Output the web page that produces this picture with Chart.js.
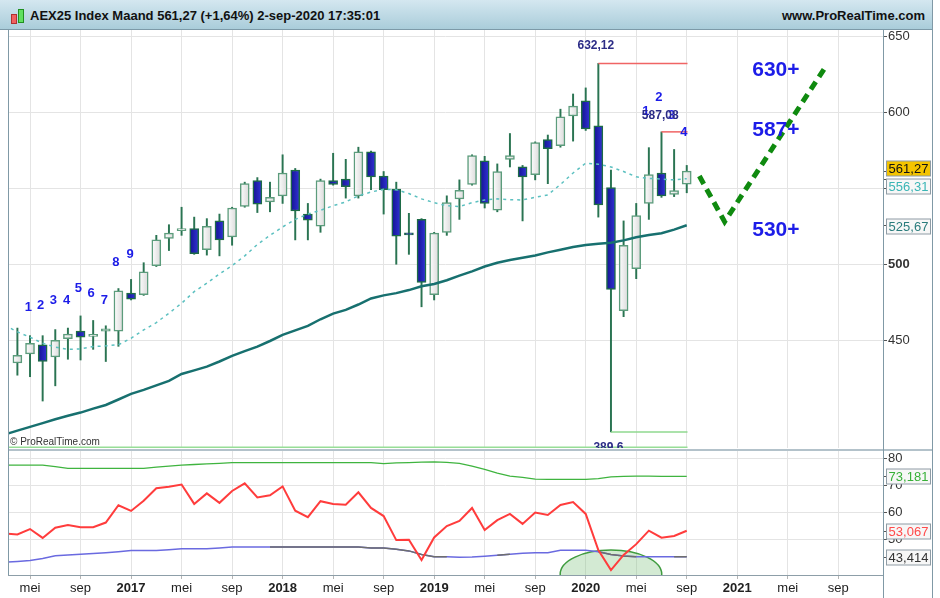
<!DOCTYPE html>
<html>
<head>
<meta charset="utf-8">
<title>AEX25 Index Maand</title>
<script src="https://cdn.jsdelivr.net/npm/chart.js@4.4.1/dist/chart.umd.min.js"></script>
<style>
  body { margin: 0; background: #fff; font-family: "Liberation Sans", Arial, sans-serif; }
  #page { position: relative; width: 940px; height: 598px; overflow: hidden; background: #fff; }
  #titlebar { position: absolute; left: 0; top: 0; width: 932px; height: 29px;
    background: linear-gradient(#d4e7f0, #aacdda); border-bottom: 1px solid #7d9aa8; }
  #titlebar .name { position: absolute; left: 30px; top: 8px; font: bold 13px "Liberation Sans", Arial, sans-serif; color: #111; }
  #titlebar .site { position: absolute; right: 7px; top: 8px; font: bold 13px "Liberation Sans", Arial, sans-serif; color: #111; }
  .ic { position: absolute; border: 1px solid; }
  canvas { position: absolute; left: 0; }
  #priceChart { top: 30px; }
  #lowerChart { top: 451px; }
  .vline { position: absolute; width: 1px; background: #8099a6; }
  #sep { position: absolute; left: 8px; top: 449px; width: 925px; height: 2px; background: #b3c2ca; }
  #copy { position: absolute; left: 10px; top: 436px; font: 10px "Liberation Sans", Arial, sans-serif; color: #333; }
</style>
</head>
<body>
<div id="page">
  <div id="titlebar">
    <div class="ic" style="left:11px;top:14px;width:4px;height:8px;background:#f06060;border-color:#b03030"></div>
    <div class="ic" style="left:18px;top:9px;width:4px;height:12px;background:#60e060;border-color:#209020"></div>
    <div class="name">AEX25 Index Maand 561,27 (+1,64%) 2-sep-2020 17:35:01</div>
    <div class="site">www.ProRealTime.com</div>
  </div>
  <canvas id="priceChart" width="933" height="418"></canvas>
  <canvas id="lowerChart" width="933" height="147"></canvas>
  <div id="sep"></div>
  <div class="vline" style="left:8px;top:30px;height:545px"></div>
  <div class="vline" style="left:883px;top:30px;height:568px"></div>
  <div class="vline" style="left:932px;top:0;height:598px"></div>
  <div id="copy">© ProRealTime.com</div>
</div>
<script>
// monthly candles, apr 2016 (index 0) .. sep 2020 (index 53)
var open  = [435, 441, 447, 439, 451, 456, 452.5, 456, 456, 481, 480, 499, 517, 522, 523.5, 509.5, 528.5, 518, 538, 555,
             541, 545, 562, 533, 525, 555, 556, 545, 574, 558, 549.5, 520, 529.5, 480, 521, 543, 552.5, 568, 535.5, 569,
             564, 559, 582, 578, 597.5, 607.5, 591, 550.5, 469.5, 497, 540, 560, 546, 552.6];
var high  = [458, 453, 453, 457, 458, 466, 463, 459.5, 484, 490, 501, 519, 526, 537.5, 531, 530, 533, 537.5, 554, 557,
             554, 572, 563, 540, 556, 573, 569, 577, 574.5, 561, 554, 533.5, 530, 521, 545, 555.5, 572, 571, 566, 586,
             565, 580.5, 585, 602, 612, 616, 632.12, 562, 528.5, 540, 576.7, 587.08, 575.5, 565];
var low   = [427, 426, 410, 420, 437.5, 437, 444, 436, 446, 476.5, 479.5, 498.5, 509, 519, 506.5, 506, 505.5, 512.5, 537.5, 534,
             534.5, 540, 516, 516, 521, 552, 543.5, 543.5, 549, 533, 500, 506.5, 472, 476.5, 519, 529.5, 552, 537, 534.5, 564,
             528.5, 555.5, 553, 577, 581, 588, 531, 389.6, 465.5, 490.5, 529.5, 544, 544.5, 547];
var close = [440, 448, 436, 450, 454, 452, 453, 457.5, 482.5, 477, 495, 516, 520.5, 523.5, 507, 525, 516, 537, 553, 539.5,
             544, 560, 535, 529, 555, 552.5, 551, 574, 557.5, 549, 518.5, 519.3, 488, 520.5, 540.5, 548.7, 571.5, 540, 561, 571.5,
             557.5, 580, 576, 597, 604, 589, 539, 483.5, 512.5, 532, 559, 545, 548.5, 561.27];

// lines from mrt 2016 (index -1) .. sep 2020
var maShort = [460, 455.5, 452, 448, 445.5, 444, 444.3, 445.8, 446.3, 447, 451.3, 456.8, 461.6, 467.8, 474.3, 482, 487.5, 493.6, 499.1, 505.5,
               513, 519, 524.5, 529.5, 533, 535.5, 538.5, 541, 545, 547.5, 549.3, 549, 546.5, 543, 540.5, 538.5, 537.9, 540.5, 542.3, 543,
               542.5, 542.3, 544, 545.6, 552.5, 560, 566.5, 565.8, 564, 561, 557.5, 556.5, 556, 555.5, 556.31];
var maLong  = [388, 390.5, 393, 395.5, 398, 400.3, 402.4, 405, 407.4, 411, 414.7, 417.3, 420.3, 423.2, 427.8, 430.2, 432.6, 436, 439.7, 442.8,
               445.8, 449.5, 453.5, 456.5, 459.4, 463.8, 467.5, 470, 473.5, 477.5, 479.5, 481, 483, 485.5, 487, 489.5, 492.5, 495.3, 498.5, 501,
               502.8, 504.3, 505.8, 507.8, 509.5, 511.3, 512.7, 513.5, 514.2, 515.7, 517.8, 519.2, 520.4, 522.8, 525.67];
var greenLine = [77.4, 77.4, 77.4, 77.4, 76.8, 76.2, 76.2, 76.2, 76.2, 76.2, 76.2, 76.2, 76.6, 77.0, 77.4, 77.6, 77.8, 78.0, 78.3, 78.3,
                 78.3, 78.3, 78.3, 78.3, 78.3, 78.3, 78.3, 78.3, 78.3, 78.3, 77.9, 78.2, 78.3, 78.5, 78.6, 78.4, 78.0, 77.0, 75.8, 74.4,
                 73.3, 72.8, 72.2, 72.1, 72.1, 72.1, 72.1, 72.4, 73.0, 73.2, 73.3, 73.3, 73.2, 73.2, 73.181];
var redLine = [52.0, 51.7, 53.7, 50.4, 54.2, 55.2, 54.4, 54.4, 56.1, 62.5, 60.4, 64.2, 68.8, 69.4, 70.2, 63.0, 66.9, 63.4, 67.8, 70.6,
               65.4, 66.2, 69.5, 60.5, 58.1, 64.0, 63.0, 62.7, 67.3, 61.5, 58.5, 49.6, 49.7, 42.2, 50.6, 54.8, 56.7, 61.5, 53.3, 57.0,
               59.3, 55.6, 59.8, 58.9, 62.6, 63.7, 59.3, 45.9, 38.5, 44.1, 48.1, 53.1, 50.5, 51.1, 53.067];
var purpleLine = [41.4, 41.7, 42.0, 42.8, 43.8, 44.1, 44.4, 44.6, 44.9, 45.3, 45.7, 45.7, 45.7, 46.0, 46.4, 46.4, 46.4, 46.7, 47.0, 47.0,
                  47.0, 47.0, 47.0, 47.0, 47.0, 47.0, 47.0, 47.0, 47.0, 46.7, 46.7, 46.2, 45.6, 44.3, 43.4, 43.4, 43.2, 43.3, 43.6, 44.0,
                  44.4, 44.7, 44.9, 44.9, 45.8, 45.8, 45.8, 45.3, 44.3, 43.7, 43.4, 43.414, 43.414, 43.414, 43.414];
var grayLine = [null, null, null, null, null, null, null, null, null, null, null, null, null, null, null, null, null, null, null, null,
                null, 47.0, 47.0, 47.0, 47.0, 47.0, 47.0, 47.0, 47.0, 46.7, 46.7, 46.2, 45.6, 44.3, 43.4, 43.4, null, null, null, 44.0,
                44.4, null, null, null, null, null, null, 45.3, 44.3, 43.7, 43.4, null, null, 43.414, 43.414];

var projection = [[54, 558], [56, 528], [64, 630]];
var topLine = [[46, 632.12], [53.06, 632.12]];
var julyLine = [[51, 587.08], [53.06, 587.08]];
var lowLine = [[47, 389.6], [53.06, 389.6]];

var xTickIdx = [1, 5, 9, 13, 17, 21, 25, 29, 33, 37, 41, 45, 49, 53, 57, 61, 65];
var xTickLabels = ['mei', 'sep', '2017', 'mei', 'sep', '2018', 'mei', 'sep', '2019', 'mei', 'sep', '2020', 'mei', 'sep', '2021', 'mei', 'sep'];
var priceTicks = [450, 500, 550, 600, 650];
var lowerTicks = [50, 60, 70, 80];

var waveLabels = [['1', 0.86, 471.7], ['2', 1.84, 472.6], ['3', 2.84, 475.9], ['4', 3.9, 476.5], ['5', 4.82, 484.2],
                  ['6', 5.83, 480.5], ['7', 6.88, 476.5], ['8', 7.8, 501.3], ['9', 8.92, 506.6],
                  ['1', 49.77, 600.4], ['2', 50.8, 609.9], ['3', 51.8, 598.2], ['4', 52.78, 586.8]];
var levelLabels = [['632,12', 45.8, 643.6], ['587,08', 50.9, 597.6], ['389,6', 46.8, 379.0]];
var targetLabels = [['630+', 60.06, 627.8], ['587+', 60.06, 588.4], ['530+', 60.06, 522.6]];

var xMin = -0.744, xMax = 68.54;
var FONT = '"Liberation Sans", Arial, sans-serif';

function pts(arr, first) {
  return arr.map(function (v, i) { return { x: i + first, y: v }; });
}
function pairs(arr) {
  return arr.map(function (p) { return { x: p[0], y: p[1] }; });
}

function bodyFill(c) {
  var i = c.dataIndex;
  if (i === undefined) return '#f0f0f0';
  var up = close[i] >= open[i];
  var sx = c.chart.scales.x;
  var px = sx ? sx.getPixelForValue(i) : NaN;
  if (!isFinite(px)) return up ? '#f0f0f0' : '#2222b0';
  var g = c.chart.ctx.createLinearGradient(px - 5, 0, px + 5, 0);
  if (up) { g.addColorStop(0, '#ffffff'); g.addColorStop(1, '#d8d8d8'); }
  else { g.addColorStop(0, '#12128c'); g.addColorStop(1, '#3434dc'); }
  return g;
}

var candleBodies = open.map(function (o, i) { return { x: i, y: [o, close[i]] }; });
var candleWicks = low.map(function (l, i) { return { x: i, y: [l, high[i]] }; });

var priceNotes = {
  id: 'priceNotes',
  afterDatasetsDraw: function (chart) {
    var ctx = chart.ctx, x = chart.scales.x, y = chart.scales.y;
    ctx.save();
    ctx.textAlign = 'center';
    ctx.textBaseline = 'middle';
    ctx.font = 'bold 13px ' + FONT;
    ctx.fillStyle = '#1c1ce8';
    waveLabels.forEach(function (l) { ctx.fillText(l[0], x.getPixelForValue(l[1]), y.getPixelForValue(l[2])); });
    ctx.font = 'bold 12px ' + FONT;
    ctx.fillStyle = '#2b2b86';
    levelLabels.forEach(function (l) { ctx.fillText(l[0], x.getPixelForValue(l[1]), y.getPixelForValue(l[2])); });
    ctx.font = 'bold 21px ' + FONT;
    ctx.fillStyle = '#1c1ce8';
    targetLabels.forEach(function (l) { ctx.fillText(l[0], x.getPixelForValue(l[1]), y.getPixelForValue(l[2])); });
    ctx.restore();
  }
};

function valueBoxes(list) {
  return {
    id: 'valueBoxes',
    afterDraw: function (chart) {
      var ctx = chart.ctx, y = chart.scales.y, right = chart.chartArea.right;
      ctx.save();
      ctx.font = '13px ' + FONT;
      ctx.textAlign = 'center';
      ctx.textBaseline = 'middle';
      list.forEach(function (b) {
        var py = y.getPixelForValue(b.value);
        var cy = Math.round(py + b.shift) + 0.5;
        ctx.strokeStyle = '#555';
        ctx.lineWidth = 1;
        ctx.beginPath(); ctx.moveTo(right, Math.round(py) + 0.5); ctx.lineTo(right + 4, Math.round(py) + 0.5); ctx.stroke();
        ctx.fillStyle = b.bg;
        ctx.fillRect(right + 3.5, cy - 7.5, 44, 15);
        ctx.strokeStyle = '#8f9ca5';
        ctx.strokeRect(right + 3.5, cy - 7.5, 44, 15);
        ctx.fillStyle = b.color;
        ctx.fillText(b.text, right + 25.5, cy + 0.5);
      });
      ctx.restore();
    }
  };
}

new Chart(document.getElementById('priceChart'), {
  type: 'bar',
  data: {
    datasets: [
      { type: 'line', data: pts(maLong, -1), borderColor: '#17706f', borderWidth: 2.5, pointRadius: 0, order: 0 },
      { type: 'line', data: pts(maShort, -1), borderColor: '#5cc0c0', borderWidth: 1.5, borderDash: [3, 4], pointRadius: 0, order: 0 },
      { type: 'line', data: pairs(topLine), borderColor: '#f06464', borderWidth: 1.5, pointRadius: 0, order: 0 },
      { type: 'line', data: pairs(julyLine), borderColor: '#f06464', borderWidth: 1.5, pointRadius: 0, order: 0 },
      { type: 'line', data: pairs(lowLine), borderColor: '#8fd88f', borderWidth: 1.5, pointRadius: 0, order: 0 },
      { type: 'line', data: [{ x: xMin, y: 379.2 }, { x: 53.06, y: 379.2 }], borderColor: '#97de97', borderWidth: 2.5, pointRadius: 0, order: 0 },
      { type: 'line', data: pairs(projection), borderColor: '#0f8a0f', borderWidth: 5, borderDash: [9, 6], borderCapStyle: 'butt', pointRadius: 0, order: 0 },
      { data: candleBodies, backgroundColor: bodyFill,
        borderColor: function (c) { var i = c.dataIndex; return (i !== undefined && close[i] < open[i]) ? '#1d6b47' : '#5c9c7c'; },
        borderWidth: 1.5, borderSkipped: false, barThickness: 9, minBarLength: 2, grouped: false, order: 1 },
      { data: candleWicks, backgroundColor: '#2a7452', barThickness: 1.3, grouped: false, order: 2 }
    ]
  },
  options: {
    responsive: false,
    animation: false,
    events: [],
    layout: { padding: { left: 8, right: 0, top: 0, bottom: 0 } },
    plugins: { legend: { display: false }, tooltip: { enabled: false } },
    scales: {
      x: {
        type: 'linear', min: xMin, max: xMax, offset: false,
        afterBuildTicks: function (s) { s.ticks = xTickIdx.map(function (v) { return { value: v }; }); },
        afterFit: function (s) { s.height = 0; s.paddingLeft = 0; s.paddingRight = 0; },
        ticks: { display: false },
        grid: { color: '#e4e4e4', drawTicks: false, offset: false },
        border: { display: false }
      },
      y: {
        position: 'right', min: 379.1, max: 654.1,
        afterBuildTicks: function (s) { s.ticks = priceTicks.map(function (v) { return { value: v }; }); },
        afterFit: function (s) { s.width = 50; s.paddingTop = 0; s.paddingBottom = 0; },
        ticks: {
          padding: 1, color: '#333',
          callback: function (v) { return v === 550 ? '' : String(v); },
          font: function (c) { return { family: FONT, size: 13, weight: (c.tick && c.tick.value === 500) ? 'bold' : 'normal' }; }
        },
        grid: { color: '#e4e4e4', tickColor: '#555', tickLength: 4 },
        border: { display: false }
      }
    }
  },
  plugins: [priceNotes, valueBoxes([
    { value: 561.27, text: '561,27', bg: '#f4c400', color: '#111', shift: -3 },
    { value: 556.31, text: '556,31', bg: '#f7f7f7', color: '#3ab5b5', shift: 7 },
    { value: 525.67, text: '525,67', bg: '#f7f7f7', color: '#2a7c7c', shift: 1 }
  ])]
});

var zone = { x: 47, y: 37, dx: 4.02, dy: 8.9 };
var zonePlugin = {
  id: 'zone',
  beforeDatasetsDraw: function (chart) {
    var ctx = chart.ctx, a = chart.chartArea, x = chart.scales.x, y = chart.scales.y;
    var cx = x.getPixelForValue(zone.x), cy = y.getPixelForValue(zone.y);
    var rx = x.getPixelForValue(zone.x + zone.dx) - cx;
    var ry = cy - y.getPixelForValue(zone.y + zone.dy);
    ctx.save();
    ctx.beginPath(); ctx.rect(a.left, a.top, a.right - a.left, a.bottom - a.top); ctx.clip();
    ctx.beginPath(); ctx.ellipse(cx, cy, rx, ry, 0, 0, Math.PI * 2);
    ctx.fillStyle = 'rgba(130, 195, 130, 0.35)'; ctx.fill();
    ctx.lineWidth = 1.5; ctx.strokeStyle = '#3f9c3f'; ctx.stroke();
    ctx.restore();
  }
};

new Chart(document.getElementById('lowerChart'), {
  type: 'line',
  data: {
    datasets: [
      { data: pts(redLine, -1), borderColor: '#ff3c3c', borderWidth: 2, pointRadius: 0, order: 0 },
      { data: pts(greenLine, -1), borderColor: '#3fb43f', borderWidth: 1.3, pointRadius: 0, order: 1 },
      { data: pts(grayLine, -1), borderColor: '#6e6e6e', borderWidth: 1.5, pointRadius: 0, order: 2 },
      { data: pts(purpleLine, -1), borderColor: '#6a6ae0', borderWidth: 1.5, pointRadius: 0, order: 3 }
    ]
  },
  options: {
    responsive: false,
    animation: false,
    events: [],
    layout: { padding: { left: 8, right: 0, top: 0, bottom: 0 } },
    plugins: { legend: { display: false }, tooltip: { enabled: false } },
    scales: {
      x: {
        type: 'linear', min: xMin, max: xMax, offset: false,
        afterBuildTicks: function (s) { s.ticks = xTickIdx.map(function (v) { return { value: v }; }); },
        afterFit: function (s) { s.height = 23; s.paddingLeft = 0; s.paddingRight = 0; },
        ticks: {
          autoSkip: false, maxRotation: 0, padding: 2, color: '#222',
          callback: function (v, i) { return xTickLabels[i]; },
          font: function (c) { return { family: FONT, size: 13, weight: /^\d{4}$/.test(xTickLabels[c.index] || '') ? 'bold' : 'normal' }; }
        },
        grid: { color: '#e4e4e4', tickColor: '#b5b5b5', tickLength: 4, offset: false },
        border: { display: true, color: '#8d9ea8' }
      },
      y: {
        position: 'right', min: 36.67, max: 82.6,
        afterBuildTicks: function (s) { s.ticks = lowerTicks.map(function (v) { return { value: v }; }); },
        afterFit: function (s) { s.width = 50; s.paddingTop = 0; s.paddingBottom = 0; },
        ticks: { padding: 1, color: '#333', font: { family: FONT, size: 13 } },
        grid: { color: '#e4e4e4', tickColor: '#555', tickLength: 4 },
        border: { display: false }
      }
    }
  },
  plugins: [zonePlugin, valueBoxes([
    { value: 73.181, text: '73,181', bg: '#f7f7f7', color: '#38b038', shift: 0 },
    { value: 53.067, text: '53,067', bg: '#f7f7f7', color: '#ff4a4a', shift: 0 },
    { value: 43.414, text: '43,414', bg: '#f7f7f7', color: '#333', shift: 0 }
  ])]
});
</script>
</body>
</html>
